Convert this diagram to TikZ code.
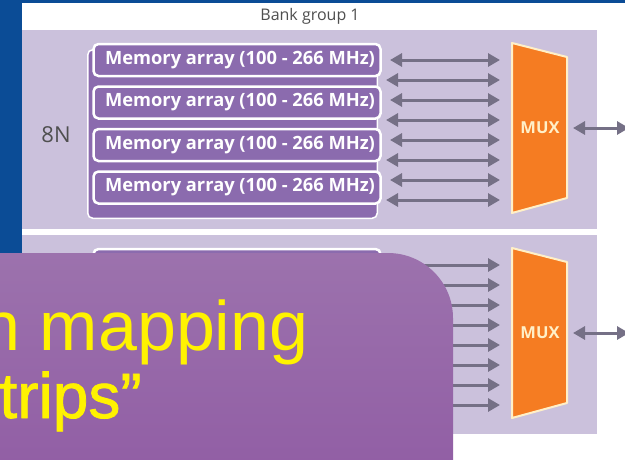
\documentclass[tikz,border=0pt]{standalone}
\usepackage{fontspec}
\setmainfont{Open Sans}
\newfontfamily\calloutfont{Liberation Sans}
\newfontfamily\calloutheavy[FakeBold=1.2]{Liberation Sans}
\usetikzlibrary{arrows.meta}

\definecolor{slideblue}{HTML}{0B4C96}
\definecolor{panellav}{HTML}{CBC1DC}
\definecolor{mempurple}{HTML}{8B6BAE}
\definecolor{linkgray}{HTML}{757086}
\definecolor{muxorange}{HTML}{F57C22}
\definecolor{muxedge}{HTML}{FFF0C8}
\definecolor{labelgray}{HTML}{4F4F4F}
\definecolor{callouttop}{HTML}{9C72AD}
\definecolor{calloutbot}{HTML}{8E58A2}

\begin{document}
\begin{tikzpicture}[x=1pt, y=-1pt, line width=1pt,
    % 样式定义
    panel/.style={fill=panellav},
    memarray/.style={draw=white, line width=2.5pt, fill=mempurple, rounded corners=5pt,
        minimum width=287pt, minimum height=32pt, inner sep=0pt, text=white,
        font=\bfseries\fontsize{18.3}{20}\selectfont},
    memstack/.style={draw=white, line width=1.5pt, fill=mempurple, rounded corners=5pt,
        minimum width=289.5pt, minimum height=168.5pt, inner sep=0pt},
    link/.style={draw=linkgray, line width=3pt,
        {Triangle[length=12pt,width=13pt]}-{Triangle[length=12pt,width=13pt]}},
    muxbody/.style={fill=muxorange, draw=muxedge, line width=2pt, line join=round},
    muxlabel/.style={text=muxedge, font=\bfseries\fontsize{16.5}{16}\selectfont, inner sep=0pt},
    callout/.style={inner sep=0pt, text=yellow}
]
    \useasboundingbox (0,0) rectangle (625,459);

    % ▼ 背景 (幻灯片蓝边 + 白底)
    \fill[slideblue] (0,0) rectangle (625,459);
    \fill[white] (22,3) rectangle (625,459);

    % ▼ 两个 bank group，第二个向下平移 205
    \foreach \g/\dy in {1/0, 2/205} {
    \begin{scope}[yshift=-\dy pt]
        \fill[panel] (22,30) rectangle (597,229);

        % 存储阵列 (叠放)
        \node[memstack] (stack\g) at (232.5,134) {};
        \foreach \k/\yy in {1/60, 2/102.5, 3/145, 4/187.5}
            \node[memarray] (mem\g-\k) at (237,\yy) {\hspace{6pt}Memory array (100 - 266 MHz)};

        % 阵列 -> MUX 的双向连线
        \foreach \k in {0,...,7} {
            \pgfmathsetmacro{\ay}{60+20*\k}
            \pgfmathsetmacro{\ax}{ifthenelse(mod(\k,2)==1,386,390)}
            \coordinate (from\g-\k) at (\ax,\ay);
            \coordinate (to\g-\k) at (500,\ay);
            \draw[link] (from\g-\k) -- (to\g-\k);
        }

        % MUX 梯形
        \draw[muxbody] (512,43) -- (567,57) -- (567,198) -- (512,213) -- cycle;
        \node[muxlabel] (mux\g) at (540,128) {MUX};

        % MUX 输出
        \coordinate (muxport\g) at (573,128);
        \coordinate (bus\g) at (629,128);
        \draw[link] (muxport\g) -- (bus\g);
    \end{scope}
    }

    % ▼ 标注
    \node[text=labelgray, font=\fontsize{16}{16}\selectfont] (bankgroup) at (310,16) {Bank group 1};
    \node[text=labelgray, font=\fontsize{22}{22}\selectfont] (size) at (56,135) {8N};

    % ▼ 前景紫色文本框
    \shade[top color=callouttop, bottom color=calloutbot, rounded corners=65pt]
        (-100,253) rectangle (453,540);
    \node[callout, anchor=base east, font=\calloutfont\fontsize{70}{70}\selectfont]
        (line1) at (309,350) {en mapping};
    \node[callout, anchor=base west, font=\calloutheavy\fontsize{64}{64}\selectfont]
        (line2) at (-1,418) {trips”};

\end{tikzpicture}
\end{document}
